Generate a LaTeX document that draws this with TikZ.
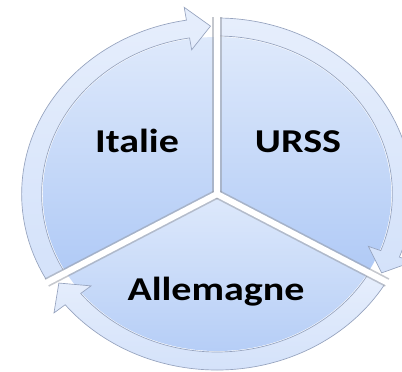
\documentclass[tikz,border=0pt]{standalone}
\usepackage{fontspec}
\setmainfont{Carlito}
\usepackage{graphicx}

\tikzset{every picture/.style={line width=0.75pt}}
\definecolor{segtop}{RGB}{222,233,251}
\definecolor{segbot}{RGB}{176,202,246}
\definecolor{ringtop}{RGB}{230,238,252}
\definecolor{ringbot}{RGB}{212,226,250}
\definecolor{ringedge}{RGB}{150,163,190}
\definecolor{gapgray}{RGB}{150,155,165}
\tikzset{
  segment/.style={top color=segtop, bottom color=segbot, draw=none},
  ringarrow/.style={top color=ringtop, bottom color=ringbot, draw=ringedge, line width=0.5pt},
  gapshade/.style={draw=gapgray, line width=7pt, draw opacity=0.55},
  gapline/.style={draw=white, line width=4.5pt},
  seglabel/.style={inner sep=0pt, anchor=base, font=\fontsize{25}{30}\selectfont\bfseries},
}

\begin{document}
\begin{tikzpicture}[x=0.75pt,y=0.75pt,yscale=-1,xscale=1]
\useasboundingbox (0,0) rectangle (402,371);

\begin{scope}[shift={(217,194)},xscale=1.11,yscale=-1]
\coordinate (hub) at (0,0);
%Shape: Sector Italie
\path [segment] (hub) -- (90:157) arc [start angle=90, end angle=210, radius=157] -- cycle;
%Shape: Sector URSS
\path [segment] (hub) -- (-30:157) arc [start angle=-30, end angle=90, radius=157] -- cycle;
%Shape: Sector Allemagne
\path [segment] (hub) -- (210:157) arc [start angle=210, end angle=330, radius=157] -- cycle;

%Shape: Ring arrow Italie
\draw [ringarrow] (210:176) arc [start angle=210, end angle=99, radius=176] -- (99:189) -- (92:168) -- (99:146) -- (99:158) arc [start angle=99, end angle=210, radius=158] -- cycle;
%Shape: Ring arrow URSS
\draw [ringarrow] (90:176) arc [start angle=90, end angle=-21, radius=176] -- (-21:189) -- (-28:168) -- (-21:146) -- (-21:158) arc [start angle=-21, end angle=90, radius=158] -- cycle;
%Shape: Ring arrow Allemagne
\draw [ringarrow] (330:176) arc [start angle=330, end angle=219, radius=176] -- (219:189) -- (212:168) -- (219:146) -- (219:158) arc [start angle=219, end angle=330, radius=158] -- cycle;

%Gaps between segments
\draw [gapshade] (hub) -- (90:177);
\draw [gapshade] (hub) -- (210:177);
\draw [gapshade] (hub) -- (330:177);
\draw [gapline] (hub) -- (90:190);
\draw [gapline] (hub) -- (210:190);
\draw [gapline] (hub) -- (330:190);
\end{scope}

% Text Node
\draw (137,152) node [seglabel] (italie) {\scalebox{1.2}[1]{Italie}};
% Text Node
\draw (298,152) node [seglabel] (urss) {\scalebox{1.2}[1]{URSS}};
% Text Node
\draw (216,300) node [seglabel] (allemagne) {\scalebox{1.2}[1]{Allemagne}};

\end{tikzpicture}
\end{document}
